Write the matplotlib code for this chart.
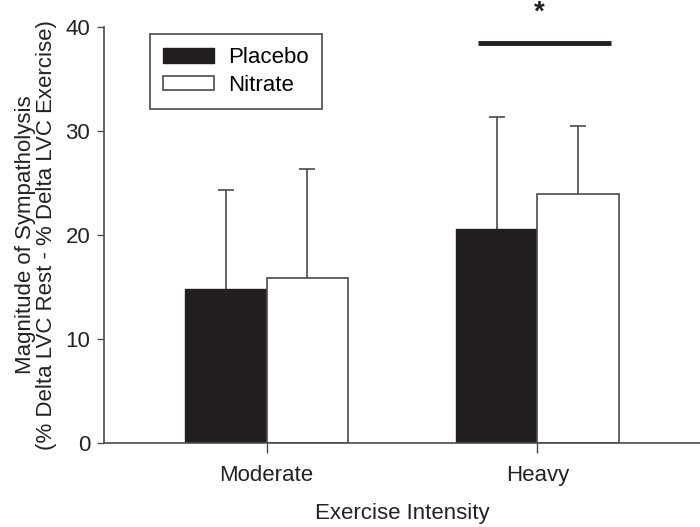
import numpy as np
import matplotlib.pyplot as plt

plt.rcParams['font.family'] = ['Liberation Sans', 'DejaVu Sans']

categories = ["Moderate", "Heavy"]
placebo = [14.75, 20.6]
placebo_sd = [9.55, 10.75]
nitrate = [15.8, 23.9]
nitrate_sd = [10.55, 6.5]

grey = '#4a4a4a'
x = np.arange(len(categories))
w = 0.3

fig = plt.figure(figsize=(7, 5.27), dpi=100)
ax = fig.add_axes([0.1486, 0.1594, 0.8514, 0.7903])

ax.bar(x - w / 2, placebo, w, color='#231f20', edgecolor='#231f20', linewidth=1,
       label='Placebo', zorder=2)
ax.bar(x + w / 2, nitrate, w, color='white', edgecolor=grey, linewidth=1.2,
       label='Nitrate', zorder=2)
for xs, ys, sd in [(x - w / 2, placebo, placebo_sd), (x + w / 2, nitrate, nitrate_sd)]:
    eb = ax.errorbar(xs, ys, yerr=[np.zeros(2), sd], fmt='none', ecolor=grey,
                     elinewidth=1.2, capsize=6, capthick=1.2, zorder=1)
    eb[1][0].set_visible(False)  # no lower cap

# significance bar over heavy
ax.plot([0.78, 1.272], [38.4, 38.4], color='#231f20', lw=3.5, clip_on=False,
        solid_capstyle='butt')
ax.text(1.005, 41.3, '*', ha='center', va='center', fontsize=20,
        fontweight='bold', color='#231f20', clip_on=False)

ax.set_xlim(-0.6, 1.6)
ax.set_ylim(0, 40)
ax.set_yticks([0, 10, 20, 30, 40])
ax.set_xticks(x)
ax.set_xticklabels(categories)
ax.tick_params(axis='both', labelsize=16, colors='#222222', direction='out',
               width=1, length=5)
ax.tick_params(axis='x', length=7, color=grey, pad=9)
ax.tick_params(axis='y', color=grey, pad=5)
for s in ['top', 'right']:
    ax.spines[s].set_visible(False)
for s in ['left', 'bottom']:
    ax.spines[s].set_color(grey)
    ax.spines[s].set_linewidth(1.2)

ax.set_xlabel('Exercise Intensity', fontsize=16, color='#222222', labelpad=12)
ax.set_ylabel('Magnitude of Sympatholysis\n(% Delta LVC Rest - % Delta LVC Exercise)',
              fontsize=16, color='#222222', labelpad=6, linespacing=1.0)

leg = ax.legend(loc='upper left', bbox_to_anchor=(0.077, 0.982), borderaxespad=0,
                fontsize=16, fancybox=False, edgecolor=grey, framealpha=1,
                handlelength=2.3, handleheight=0.6, borderpad=0.6,
                labelspacing=0.3, handletextpad=0.6)
leg.get_frame().set_linewidth(1.2)

fig.savefig('out.png', dpi=100)
